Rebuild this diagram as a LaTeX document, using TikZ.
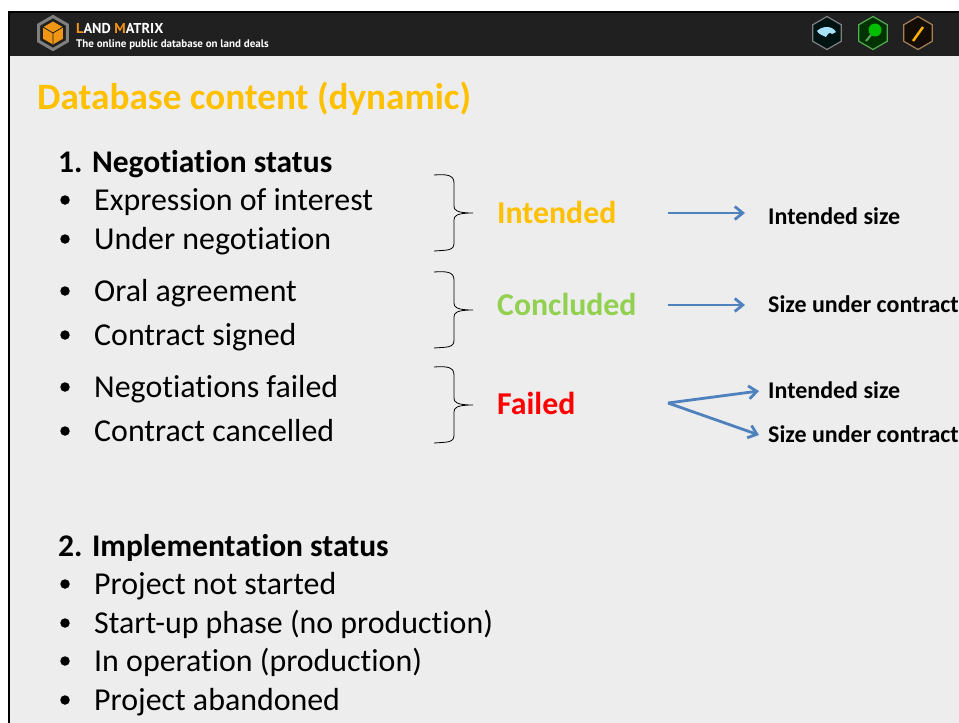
\documentclass[tikz,border=0pt]{standalone}
\usepackage{fontspec}
\setmainfont{Carlito}[Ligatures=NoCommon]
\newfontfamily\headerfont{PT Sans}
\usetikzlibrary{arrows.meta,positioning,shapes.geometric}
\definecolor{slideGrey}{RGB}{237,237,237}
\definecolor{barDark}{RGB}{32,32,32}
\definecolor{goldText}{RGB}{255,192,0}
\definecolor{greenText}{RGB}{146,208,80}
\definecolor{arrowBlue}{RGB}{79,129,189}
\definecolor{logoOrange}{RGB}{240,150,20}
\tikzset{
	itemtext/.style={anchor=base west, inner sep=0pt, font=\fontsize{31.9}{31.9}\selectfont},
	headtext/.style={anchor=base west, inner sep=0pt, font=\fontsize{31.5}{31.5}\selectfont\bfseries},
	statetext/.style={anchor=base west, inner sep=0pt, font=\fontsize{31.8}{31.8}\selectfont\bfseries},
	sizetext/.style={anchor=base west, inner sep=0pt, font=\fontsize{24}{24}\selectfont\bfseries},
	dot/.style={circle, fill=black, minimum size=9.5pt, inner sep=0pt},
	flow/.style={-{Straight Barb[length=8pt,width=13pt]}, line width=2.8pt, color=arrowBlue},
	icon/.style={regular polygon, regular polygon sides=6, shape border rotate=30, draw, line width=1.2pt, minimum size=33pt, inner sep=0pt}
}
\begin{document}
\begin{tikzpicture}[x=1pt,y=-1pt]
\useasboundingbox (0,0) rectangle (959,723);
\fill[white] (0,0) rectangle (959,723);
% slide and top bar
\fill[slideGrey] (9,56) rectangle (959,723);
\fill[barDark] (9,13) rectangle (959,56);
\draw[black, line width=2pt] (8.5,723) -- (8.5,12) -- (959,12);

% logo
\node [regular polygon, regular polygon sides=6, shape border rotate=30, draw=gray, line width=3pt, fill=barDark, minimum size=33pt, inner sep=0pt] (logo) at (53,33) {};
\node [regular polygon, regular polygon sides=6, shape border rotate=30, fill=logoOrange, minimum size=23pt, inner sep=0pt] (cube) at (53,33) {};
\draw[barDark, thick] (cube.center) -- +(0,11) (cube.center) -- +(-10,-6) (cube.center) -- +(10,-6);
\node [anchor=base west, inner sep=0pt, text=white, font=\headerfont\bfseries\fontsize{14.3}{14.3}\selectfont] (brand) at (76,33) {\textcolor{logoOrange}{L}AND \textcolor{logoOrange}{M}ATRIX};
\node [anchor=base west, inner sep=0pt, text=white, font=\headerfont\bfseries\fontsize{11}{11}\selectfont] (tagline) at (76,47) {The online public database on land deals};

% top right icons
\node [icon, draw=gray, fill=black!85!teal] (iconA) at (827,33) {};
\node [icon, draw=green!35!gray, fill=black!80!green] (iconB) at (873,33) {};
\node [icon, draw=brown!60!gray, fill=black!90!brown] (iconC) at (918,33) {};
\fill[cyan!35!white] (817,31) .. controls (822,26) and (832,25) .. (836,32) -- (832,34) .. controls (830,32) and (828,33) .. (826,37) .. controls (823,35) and (819,35) .. (817,31) -- cycle;
\fill[green!75!black] (875,30) circle (6.5);
\draw[green!25!gray, line width=2pt] (871,35) -- (866,41);
\draw[orange!60!yellow, line width=2.5pt] (923,27) -- (913,41);

% title
\node [anchor=base west, inner sep=0pt, text=goldText, font=\fontsize{37.2}{37.2}\selectfont\bfseries] (title) at (37,109) {Database content (dynamic)};

% lists
\node [headtext] (headNeg) at (58,172) {1. Negotiation status};
\node [headtext] (headImp) at (58,556) {2. Implementation status};
\foreach \y/\name in {210/Expression of interest, 249/Under negotiation, 301/Oral agreement, 345/Contract signed, 397/Negotiations failed, 441/Contract cancelled, 594/Project not started, 633/Start-up phase (no production), 671/In operation (production), 710/Project abandoned}
{
	\node [itemtext] (item\y) at (94,\y) {\name};
	\node [dot] (dot\y) at (65,\y-10) {};
}

% braces
\foreach \y in {213,310,405}
	\draw[black, line width=.8pt] (434,\y-38) .. controls (447,\y-39) and (454,\y-38) .. (454,\y-30) -- (454,\y-7) .. controls (454,\y-3) and (456,\y) .. (473,\y) .. controls (456,\y) and (454,\y+3) .. (454,\y+7) -- (454,\y+30) .. controls (454,\y+38) and (447,\y+37) .. (434,\y+38);

% states
\node [statetext, text=goldText] (intended) at (497,223) {Intended};
\node [statetext, text=greenText] (concluded) at (497,315) {Concluded};
\node [statetext, text=red] (failed) at (497,414) {Failed};

% sizes
\node [sizetext] (sizeA) at (768,224) {Intended size};
\node [sizetext] (sizeB) at (768,312) {Size under contract};
\node [sizetext] (sizeC) at (768,398) {Intended size};
\node [sizetext] (sizeD) at (768,442) {Size under contract};

\coordinate (startA) at (668,213);
\coordinate (startB) at (668,305);
\coordinate (startC) at (668,403);
\coordinate (endA) at (745,213);
\coordinate (endB) at (745,305);
\coordinate (endC) at (759,391);
\coordinate (endD) at (759,435);

\draw[flow] (startA) -- (endA);
\draw[flow] (startB) -- (endB);
\draw[flow] (startC) -- (endC);
\draw[flow] (startC) -- (endD);
\end{tikzpicture}
\end{document}
